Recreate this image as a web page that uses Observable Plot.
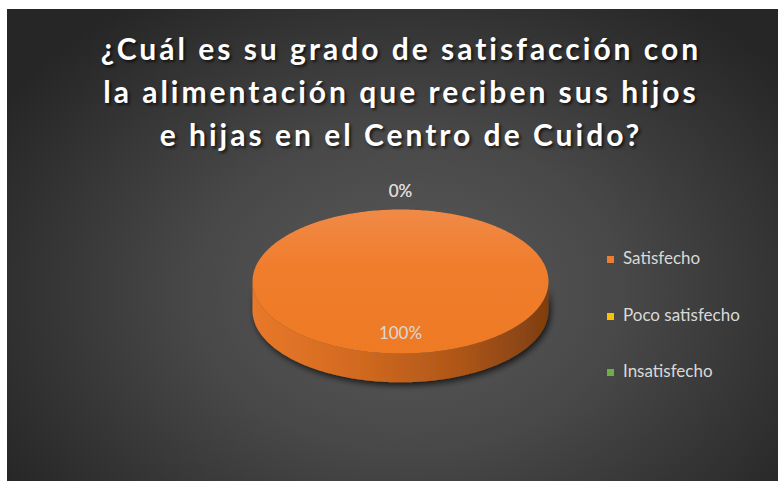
<!DOCTYPE html>
<html>
<head>
<meta charset="utf-8">
<script src="https://cdn.jsdelivr.net/npm/d3@7"></script>
<script src="https://cdn.jsdelivr.net/npm/@observablehq/plot@0.6"></script>
<style>
  html, body { margin: 0; padding: 0; background: #ffffff; }
  #frame {
    position: absolute; left: 7px; top: 9px; width: 771px; height: 472px; overflow: hidden;
    background: radial-gradient(ellipse 62% 75% at 52% 60%, #5a5a5a 0%, #484848 45%, #2f2f2f 85%, #262626 100%);
    font-family: Lato, "Open Sans", sans-serif;
  }
  #title {
    position: absolute; left: 0; top: 18px; width: 788px; text-align: center;
    color: #ffffff; font-weight: bold; font-size: 30px; line-height: 43px; letter-spacing: 3px;
    text-shadow: 2px 2px 3px rgba(0,0,0,0.65);
  }
  #chart { position: absolute; left: 0; top: 0; }
  #legend { position: absolute; left: 600px; top: 0; }
  .item { position: absolute; left: 0; white-space: nowrap; color: #d9d9d9; font-size: 17px; line-height: 20px; }
  .sw { display: inline-block; width: 7px; height: 7px; margin-right: 9px; vertical-align: 1px; }
</style>
</head>
<body>
<div id="frame">
  <div id="chart"></div>
  <div id="title"></div>
  <div id="legend"></div>
</div>
<script>
// ---- data ----
const titleLines = ["¿Cuál es su grado de satisfacción con", "la alimentación que reciben sus hijos", "e hijas en el Centro de Cuido?"];
const categories = ["Satisfecho", "Poco satisfecho", "Insatisfecho"];
const percents = [100, 0, 0];
const colors = ["#ED7D31", "#FFC000", "#70AD47"];

// ---- title ----
document.getElementById("title").innerHTML = titleLines.map(t => `<div>${t}</div>`).join("");

// ---- legend ----
const legendTops = [248, 305, 361];
document.getElementById("legend").innerHTML = categories.map((c, i) =>
  `<div class="item" style="top:${legendTops[i] - 9}px"><span class="sw" style="background:${colors[i]}"></span>${c}</div>`).join("");

// ---- pie geometry (unit ellipse, y down) ----
const depth = 0.4;
const arcs = d3.pie().sort(null)(percents);
const step = Math.PI / 180;
function angles(a0, a1) {
  const out = [];
  for (let a = a0; a < a1; a += step) out.push(a);
  out.push(a1);
  return out;
}
const topPts = [], sidePts = [], labels = [];
arcs.forEach((a, i) => {
  const c = categories[i];
  if (a.endAngle > a.startAngle) {
    topPts.push({k: c, x: 0, y: 0});
    for (const t of angles(a.startAngle, a.endAngle)) topPts.push({k: c, x: Math.sin(t), y: -Math.cos(t)});
    topPts.push({k: c, x: 0, y: 0});
    const s0 = Math.max(a.startAngle, Math.PI / 2), s1 = Math.min(a.endAngle, 3 * Math.PI / 2);
    if (s1 > s0) {
      const ts = angles(s0, s1);
      for (const t of ts) sidePts.push({k: c, x: Math.sin(t), y: -Math.cos(t)});
      for (const t of ts.slice().reverse()) sidePts.push({k: c, x: Math.sin(t), y: -Math.cos(t) + depth});
    }
  }
  const mid = (a.startAngle + a.endAngle) / 2;
  const r = a.value > 0 ? 0.72 : 1.25;
  labels.push({x: Math.sin(mid) * r, y: -Math.cos(mid) * r, text: `${a.value}%`});
});

const chart = Plot.plot({
  width: 771, height: 472,
  margin: 0,
  style: {background: "transparent", overflow: "visible"},
  x: {domain: [-1, 1], range: [245, 541], axis: null},
  y: {domain: [-1, 1], range: [200, 344], axis: null},
  marks: [
    Plot.line(sidePts, {x: "x", y: "y", z: "k", fill: "url(#sideGrad)", stroke: "none", curve: "linear"}),
    Plot.line(topPts, {x: "x", y: "y", z: "k", fill: "url(#topGrad)", stroke: "none", curve: "linear"}),
    Plot.text(labels, {x: "x", y: "y", text: "text", fill: "#d9d9d9", fontSize: 17, fontFamily: "Lato"})
  ]
});

// gradients and shadow
const svg = d3.select(chart);
const defs = svg.insert("defs", ":first-child");
const sg = defs.append("linearGradient").attr("id", "sideGrad").attr("gradientUnits", "userSpaceOnUse")
  .attr("x1", 245).attr("x2", 541).attr("y1", 0).attr("y2", 0);
[[0, "#E8782A"], [0.35, "#D26A20"], [0.7, "#AE5618"], [1, "#7E3E10"]].forEach(([o, c]) =>
  sg.append("stop").attr("offset", o).attr("stop-color", c));
const tg = defs.append("linearGradient").attr("id", "topGrad").attr("gradientUnits", "userSpaceOnUse")
  .attr("x1", 0).attr("x2", 0).attr("y1", 200).attr("y2", 344);
[[0, "#F08A48"], [0.4, "#F07D2C"], [1, "#EE7A24"]].forEach(([o, c]) =>
  tg.append("stop").attr("offset", o).attr("stop-color", c));
const f = defs.append("filter").attr("id", "shadow").attr("x", "-20%").attr("y", "-20%").attr("width", "140%").attr("height", "160%");
f.append("feDropShadow").attr("dx", 2).attr("dy", 3).attr("stdDeviation", 3).attr("flood-color", "#000").attr("flood-opacity", 0.7);
svg.selectAll("g[aria-label='line']").filter((d, i) => i === 0).attr("filter", "url(#shadow)");

document.getElementById("chart").appendChild(chart);
</script>
</body>
</html>
